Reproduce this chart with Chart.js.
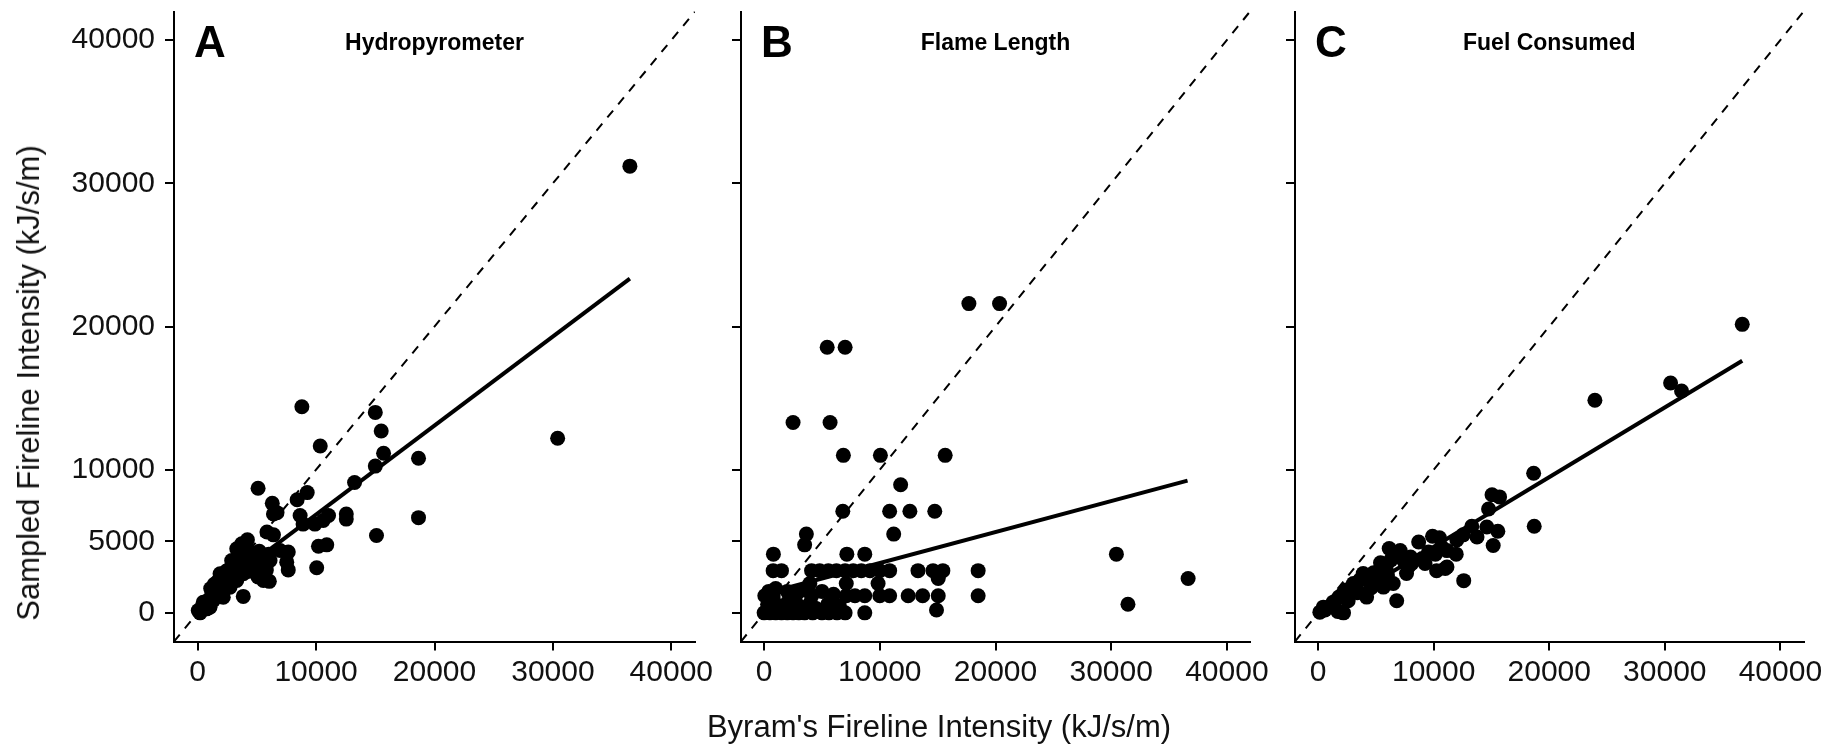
<!DOCTYPE html>
<html>
<head>
<meta charset="utf-8">
<script src="https://cdn.jsdelivr.net/npm/chart.js@4/dist/chart.umd.min.js"></script>
<style>
    body { margin: 0; background: #fff; width: 1840px; height: 749px; overflow: hidden; position: relative; }
    canvas { position: absolute; top: 0; }
    .axis-title { position: absolute; font: 31px 'Liberation Sans', Arial, sans-serif; color: #111; white-space: nowrap; transform: translate(-50%, -50%); }
</style>
</head>
<body>
<canvas id="panelA" width="730" height="749" style="left:0px"></canvas>
<canvas id="panelB" width="590" height="749" style="left:700px"></canvas>
<canvas id="panelC" width="585" height="749" style="left:1255px"></canvas>
<div class="axis-title" style="left:939px; top:727px">Byram's Fireline Intensity (kJ/s/m)</div>
<div class="axis-title" style="left:29px; top:383px; transform: translate(-50%, -50%) rotate(-90deg)">Sampled Fireline Intensity (kJ/s/m)</div>
<script>
// tick labels
const xTicks = [0, 10000, 20000, 30000, 40000];
const yTicks = [0, 5000, 10000, 20000, 30000, 40000];
const axisMin = -2000;
const axisMax = 42000;

// A - Hydropyrometer
const hydroX = [36500, 30400, 8800, 15000, 15500, 10350, 15700, 18650, 15000, 13250, 5100, 9250, 8400, 6300, 6700, 6400,
    8650, 11050, 12550, 12550, 18650, 8900, 9900, 10600, 5850, 6400, 15100, 4200, 10200, 10900, 7650, 10050, 7650, 6050, 3850, 5100,
    50, 470, 1040, 1320, 1890, 1610, 2160, 1890, 2590, 3010, 3300, 2870, 3580, 4140, 4420, 4990, 5270, 5550, 6110, 6960, 7520,
    4700, 3860, 3300, 2730, 2160, 760, 200, 3300, 3720, 600, 900, 1200, 1500, 2000, 2400, 2600, 3000, 3500, 4000, 4500, 5200,
    6000, 5600, 2200, 1700, 1300, 800, 300, 4300, 1100, 1600, 2400, 2900, 3900, 4600, 4050, 1400, 2700, 5800];
const hydroY = [31200, 12200, 14400, 14000, 12700, 11650, 11150, 10800, 10250, 9100, 8700, 8400, 7900, 7650, 7000, 6900,
    6800, 6800, 6900, 6550, 6650, 6200, 6200, 6450, 5650, 5450, 5400, 5100, 4650, 4750, 4250, 3150, 3000, 2200, 1150, 2500,
    160, 740, 390, 860, 1330, 1790, 2260, 2730, 2490, 2960, 3430, 3660, 4130, 4590, 4130, 3660, 3190, 2260, 3660, 4360, 3540,
    3190, 2730, 2260, 1790, 1090, 280, 0, 4480, 4830, 500, 900, 1400, 1100, 1800, 2000, 3000, 2500, 3200, 3500, 4000, 4300,
    4100, 3900, 2600, 2200, 1000, 600, 300, 2900, 1700, 1600, 2900, 3300, 3100, 3400, 4500, 2000, 2100, 3000];
const hydroFitX = [0, 36500];
const hydroFitY = [650, 23350];

// B - Flame Length
const flameX = [17700, 20350, 5450, 7000, 2500, 5700, 6850, 10050, 15650, 11800, 6800, 10850, 12600, 14750, 11200, 3650, 3500,
    800, 7150, 8700, 30450, 36650, 31450,
    780, 1500, 4100, 4800, 5550, 6250, 7000, 7700, 8400, 9150, 10000, 10850, 13300, 14600, 15450, 18500,
    15050, 3950, 7100, 9850,
    60, 780, 4100, 7100, 7850, 8700, 10000, 10850, 12450, 13700, 15050, 18500, 14900,
    0, 500, 1000, 1500, 2000, 2500, 3000, 3500, 4200, 5000, 5600, 6300, 7000, 8700,
    300, 1200, 2000, 3000, 4000, 5500, 6500, 400, 1000, 2000, 2800, 3500, 5000, 6000, 1500, 2500, 4500, 800];
const flameY = [21600, 21600, 18550, 18550, 13300, 13300, 11000, 11000, 11000, 8950, 7100, 7100, 7100, 7100, 5500, 5500, 4750,
    4100, 4100, 4100, 4100, 2400, 600,
    2950, 2950, 2950, 2950, 2950, 2950, 2950, 2950, 2950, 2950, 2950, 2950, 2950, 2950, 2950, 2950,
    2400, 2050, 2050, 2050,
    1200, 1200, 1200, 1200, 1200, 1200, 1200, 1200, 1200, 1200, 1200, 1200, 200,
    0, 0, 0, 0, 0, 0, 0, 0, 0, 0, 0, 0, 0, 0,
    600, 500, 700, 500, 700, 600, 500, 1500, 1700, 1500, 1300, 1600, 1500, 1300, 300, 1000, 300, 900];
const flameFitX = [0, 36600];
const flameFitY = [1320, 9240];

// C - Fuel Consumed
const fuelX = [36700, 23950, 30500, 31450, 18650, 18700, 15050, 15700, 14750, 14600, 15550, 15150, 13750, 13300, 12550, 12600,
    11950, 11150, 10250, 11150, 9900, 10500, 8700, 10150, 9250, 7650, 6800, 6150, 7100, 7400, 4200, 5500, 5200, 3900, 3050,
    2150, 1300, 450, 150, 2050, 2600, 4500, 5650, 6500, 11000, 8100, 9550, 4600, 3300, 1000, 1700, 2200, 600, 2800, 3600,
    4800, 5900, 6300, 8000, 12000, 4100, 5000, 5400, 6000, 3400, 2400, 1800, 7800, 10700, 9000];
const fuelY = [20150, 14850, 16050, 15500, 9750, 6050, 8250, 8100, 7250, 6000, 5700, 4700, 5300, 6050, 5450, 2250,
    4100, 3200, 2950, 4350, 5350, 5250, 4950, 4100, 3450, 2750, 850, 4500, 4350, 3650, 1100, 3300, 2500, 2750, 2050,
    1350, 750, 400, 50, 50, 850, 2050, 1800, 2050, 3100, 3450, 4250, 1750, 1950, 450, 100, 0, 200, 1500, 2300,
    2800, 3000, 3700, 3900, 5100, 2400, 2200, 3500, 2600, 1400, 1600, 1100, 3200, 4600, 3800];
const fuelFitX = [0, 36700];
const fuelFitY = [-250, 17610];

Chart.defaults.font.family = "'Liberation Sans', Arial, sans-serif";
Chart.defaults.color = '#111';

function toPoints(xs, ys) {
    return xs.map((x, i) => ({x: x, y: ys[i]}));
}

// letter + title drawn inside the panel
const panelLabels = {
    id: 'panelLabels',
    afterDraw(chart, args, opts) {
        const ctx = chart.ctx;
        const area = chart.chartArea;
        ctx.save();
        ctx.fillStyle = '#000';
        ctx.textBaseline = 'alphabetic';
        ctx.font = "bold 44px 'Liberation Sans', Arial, sans-serif";
        ctx.textAlign = 'left';
        ctx.fillText(opts.letter, area.left + 20, 57);
        ctx.font = "bold 23px 'Liberation Sans', Arial, sans-serif";
        ctx.textAlign = 'center';
        ctx.fillText(opts.title, (area.left + area.right) / 2, 50);
        ctx.restore();
    }
};

function makeScale(ticks, showLabels, size, horizontal) {
    return {
        type: 'linear',
        min: axisMin,
        max: axisMax,
        afterBuildTicks: scale => { scale.ticks = ticks.map(v => ({value: v})); },
        afterFit: scale => {
            if (horizontal) scale.height = size; else scale.width = size;
            scale.paddingTop = 0;
            scale.paddingBottom = 0;
            scale.paddingLeft = 0;
            scale.paddingRight = 0;
        },
        ticks: {
            display: showLabels,
            autoSkip: false,
            maxRotation: 0,
            padding: horizontal ? 4 : 10,
            font: {size: 30},
            color: '#111',
            callback: v => String(v)
        },
        grid: {
            drawOnChartArea: false,
            drawTicks: true,
            tickLength: 9,
            color: '#000',
            tickColor: '#000',
            lineWidth: 2,
            tickWidth: 2
        },
        border: {display: true, color: '#000', width: 2}
    };
}

function CreatePanel(id, xs, ys, fitX, fitY, letter, title, yWidth, padRight, showY) {
    const ctx = document.getElementById(id).getContext('2d');
    new Chart(ctx, {
        type: 'scatter',
        data: {
            datasets: [{
                data: toPoints(xs, ys),
                pointRadius: 7.5,
                pointHoverRadius: 7.5,
                backgroundColor: '#000',
                borderWidth: 0
            }, {
                data: toPoints([axisMin, axisMax], [axisMin, axisMax]),
                showLine: true,
                borderColor: '#000',
                borderWidth: 2,
                borderDash: [9, 8],
                pointRadius: 0
            }, {
                data: toPoints(fitX, fitY),
                showLine: true,
                borderColor: '#000',
                borderWidth: 4,
                pointRadius: 0
            }]
        },
        options: {
            responsive: false,
            animation: false,
            devicePixelRatio: 1,
            layout: {padding: {top: 11.5, right: padRight, left: 0, bottom: 0}},
            plugins: {
                legend: {display: false},
                tooltip: {enabled: false},
                panelLabels: {letter: letter, title: title}
            },
            scales: {
                x: makeScale(xTicks, true, 107.5, true),
                y: makeScale(yTicks, showY, yWidth, false)
            }
        },
        plugins: [panelLabels]
    });
}

CreatePanel('panelA', hydroX, hydroY, hydroFitX, hydroFitY, 'A', 'Hydropyrometer', 174, 35, true);
CreatePanel('panelB', flameX, flameY, flameFitX, flameFitY, 'B', 'Flame Length', 41, 40, false);
CreatePanel('panelC', fuelX, fuelY, fuelFitX, fuelFitY, 'C', 'Fuel Consumed', 40, 36.5, false);
</script>
</body>
</html>
